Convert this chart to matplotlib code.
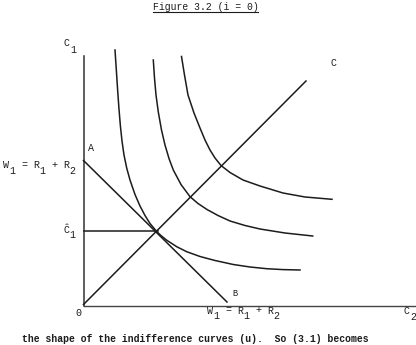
import matplotlib
matplotlib.use("Agg")
import matplotlib.pyplot as plt

# ── data (units: offsets from the origin O) ──────────────────────────────────
axis_c2_end = 331          # horizontal axis length (C2)
axis_c1_end = 250          # vertical axis length (C1)

budget_x = [0, 143.5]      # line A-B, W1 = R1 + R2 on both axes
budget_y = [145, 3.5]

ray_x = [0, 222.5]         # 45-degree line O-C
ray_y = [1, 224.5]

c1_hat = 74.5              # optimum consumption level
c1_hat_x = [0, 74]

u1_x = [31.5, 32.7, 34, 35.4, 36.9, 38.5, 40.5, 43.2, 46.5, 51.5, 56.5, 61.5, 66.5,
        73.2, 77.5, 83.2, 93.2, 103.2, 116.5, 131.5, 149.8, 166.5, 183.2, 199.5, 216.5]
u1_y = [255.5, 237.5, 217.5, 197.5, 179.5, 164.5, 150.5, 137.5, 125.5, 111, 99.5, 90, 82,
        74, 69.9, 65.3, 58.8, 53.8, 49, 45, 41, 38.5, 36.8, 35.9, 35.5]

u2_x = [69.8, 71, 72.5, 74.8, 78, 81.5, 85.5, 89.8, 97.5, 106.5, 114.5, 123.5, 134.5,
        146.5, 161.5, 176.5, 201.5, 229.2]
u2_y = [245.5, 227.5, 210.5, 193.5, 175.5, 160.5, 147, 135.5, 121, 108.8, 102, 96, 90,
        84.5, 80, 76.5, 72.5, 69.5]

u3_x = [98, 101, 104.5, 110.5, 116.5, 121.5, 126.5, 131.5, 137.5, 146.5, 159.5, 176.5,
        199.5, 221.5, 248.5]
u3_y = [249, 230.5, 210.5, 192.5, 177.5, 165.5, 155.5, 147.5, 140, 133, 125.5, 119.5,
        112.5, 108.5, 106.2]

title = "Figure 3.2 (i = 0)"
caption = "the shape of the indifference curves (u).  So (3.1) becomes"
wealth_label = [("W", 0), ("1", 1), ("=", 0), ("R", 0), ("1", 1), ("+", 0), ("R", 0), ("2", 1)]
wealth_cols = [0, 1, 3, 5, 6, 8, 10, 11]

# ── style ────────────────────────────────────────────────────────────────────
plt.rcParams["font.family"] = ["Liberation Mono", "DejaVu Sans Mono"]
ink = "#1c1c1c"
fs = 7.2
cw = 6.0                    # typewriter character pitch, px

fig = plt.figure(figsize=(4.16, 3.45), dpi=100)
ax = fig.add_axes([0, 0, 1, 1])
ax.set_xlim(-83.5, 332.5)   # 1 data unit = 1 pixel
ax.set_ylim(-39.5, 305.5)
ax.axis("off")

lw = 1.1
ax.plot([0, 0], [0, axis_c1_end], color="#333333", lw=lw)
ax.plot([0, axis_c2_end], [0, 0], color="#444444", lw=1.0)
ax.plot(budget_x, budget_y, color=ink, lw=lw)
ax.plot(ray_x, ray_y, color=ink, lw=lw)
ax.plot(c1_hat_x, [c1_hat, c1_hat], color=ink, lw=lw)
for xs, ys in [(u1_x, u1_y), (u2_x, u2_y), (u3_x, u3_y)]:
    ax.plot(xs, ys, color=ink, lw=lw, solid_joinstyle="round")


# ── labels (typewriter style: subscripts are dropped half a line) ────────────
def typed(x, y, glyphs, cols, drop=6.5):
    for (ch, is_sub), col in zip(glyphs, cols):
        ax.text(x + col * cw, y - drop * is_sub, ch, fontsize=fs,
                ha="left", va="center", color=ink)


typed(-19.5, 262, [("C", 0), ("1", 1)], [0, 1])
typed(-80.5, 140.5, wealth_label, wealth_cols)
typed(-20.5, 75.5, [("Ĉ", 0), ("1", 1)], [0, 1], drop=5.5)
typed(123.5, -5, wealth_label, wealth_cols, drop=5.5)
typed(320.5, -6, [("C", 0), ("2", 1)], [0, 1], drop=6)
ax.text(-5.2, -7.5, "0", fontsize=fs, ha="center", va="center", color=ink)
ax.text(7.3, 157.2, "A", fontsize=fs, ha="center", va="center", color=ink)
ax.text(151.5, 11.5, "B", fontsize=fs - 1, ha="center", va="center", color=ink)
ax.text(249.8, 242.2, "C", fontsize=fs, ha="center", va="center", color=ink)

t = ax.text(122, 298, title, fontsize=7.0, ha="center", va="center", color=ink)
fig.canvas.draw()
bb = t.get_window_extent().transformed(ax.transData.inverted())
ax.plot([bb.x0, bb.x1], [293.2, 293.2], color=ink, lw=0.8)

ax.text(-61.5, -36, caption, fontsize=7.0, ha="left", va="baseline",
        color=ink, fontweight="bold")

fig.savefig("out.png", dpi=100)
